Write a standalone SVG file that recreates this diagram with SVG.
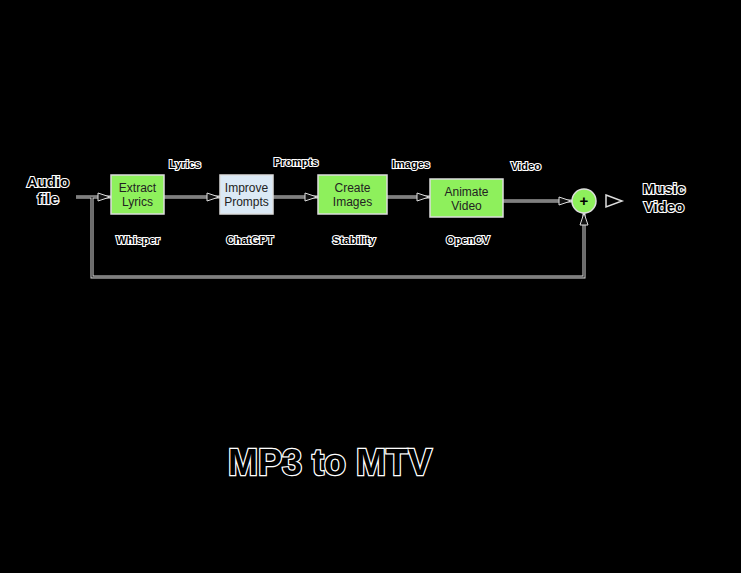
<svg xmlns="http://www.w3.org/2000/svg" width="741" height="573" viewBox="0 0 741 573">
<defs>
<style>
.h{font-family:"Liberation Sans",Arial,sans-serif;font-weight:bold;fill:#000;stroke:#fff;stroke-width:2.2;paint-order:stroke;text-anchor:middle}
.b{font-family:"Liberation Sans",Arial,sans-serif;font-size:12px;fill:#222;text-anchor:middle}
.bg{fill:#8ef05c;stroke:#ddd;stroke-width:1.5}
.lw{fill:none;stroke:#ddd;stroke-width:3}
.lk{fill:none;stroke:#222;stroke-width:1.2}
</style>
<marker id="a" markerWidth="14" markerHeight="10" refX="13" refY="5" orient="auto" markerUnits="userSpaceOnUse"><path d="M1,1 L13,5 L1,9 Z" fill="#111" stroke="#ddd" stroke-width="1"/></marker>
</defs>
<rect width="741" height="573" fill="#000"/>
<g id="connectors">
<path class="lw" d="M76,197 H111 M164,197 H220 M273,197 H318 M387,197 H430 M503,201 H572 M92,197 V277 H584 V212"/>
<path class="lk" d="M76,197 H110" marker-end="url(#a)"/>
<path class="lk" d="M164,197 H219" marker-end="url(#a)"/>
<path class="lk" d="M273,197 H317" marker-end="url(#a)"/>
<path class="lk" d="M387,197 H429" marker-end="url(#a)"/>
<path class="lk" d="M503,201 H571" marker-end="url(#a)"/>
<path class="lk" d="M92,197 V277 H584 V213" marker-end="url(#a)"/>
<path d="M606,195 L622,201 L606,207 Z" fill="#000" stroke="#ddd" stroke-width="1.5"/>
</g>
<g id="n-audio"><text class="h" x="48" y="187" font-size="15">Audio</text><text class="h" x="48" y="204" font-size="15">file</text></g>
<g id="n-extract"><rect class="bg" x="111" y="175" width="53" height="39"/><text class="b" x="137.5" y="192">Extract</text><text class="b" x="137.5" y="206">Lyrics</text></g>
<g id="n-improve"><rect x="220" y="175" width="53" height="39" fill="#dbe9f5" stroke="#ddd" stroke-width="1.5"/><text class="b" x="246.5" y="192">Improve</text><text class="b" x="246.5" y="206">Prompts</text></g>
<g id="n-create"><rect class="bg" x="318" y="175" width="69" height="39"/><text class="b" x="352.5" y="192">Create</text><text class="b" x="352.5" y="206">Images</text></g>
<g id="n-animate"><rect class="bg" x="430" y="179" width="73" height="38"/><text class="b" x="466.5" y="196">Animate</text><text class="b" x="466.5" y="210">Video</text></g>
<g id="n-sum"><circle cx="584" cy="201" r="12" fill="#8ef05c" stroke="#ddd" stroke-width="1.5"/><text x="584" y="206" font-family="Liberation Sans,sans-serif" font-size="15" font-weight="bold" text-anchor="middle" fill="#000">+</text></g>
<g id="n-out"><text class="h" x="664" y="194" font-size="15">Music</text><text class="h" x="664" y="212" font-size="15">Video</text></g>
<g id="labels" font-size="11">
<text class="h" x="185" y="168" font-size="11">Lyrics</text>
<text class="h" x="296" y="166" font-size="11">Prompts</text>
<text class="h" x="411" y="168" font-size="11">Images</text>
<text class="h" x="526" y="170" font-size="11">Video</text>
<text class="h" x="138" y="244" font-size="11">Whisper</text>
<text class="h" x="250" y="244" font-size="11">ChatGPT</text>
<text class="h" x="354" y="244" font-size="11">Stability</text>
<text class="h" x="468" y="244" font-size="11">OpenCV</text>
</g>
<g id="title"><text class="h" x="330" y="475" font-size="36" style="stroke-width:2.5">MP3 to MTV</text></g>
</svg>
